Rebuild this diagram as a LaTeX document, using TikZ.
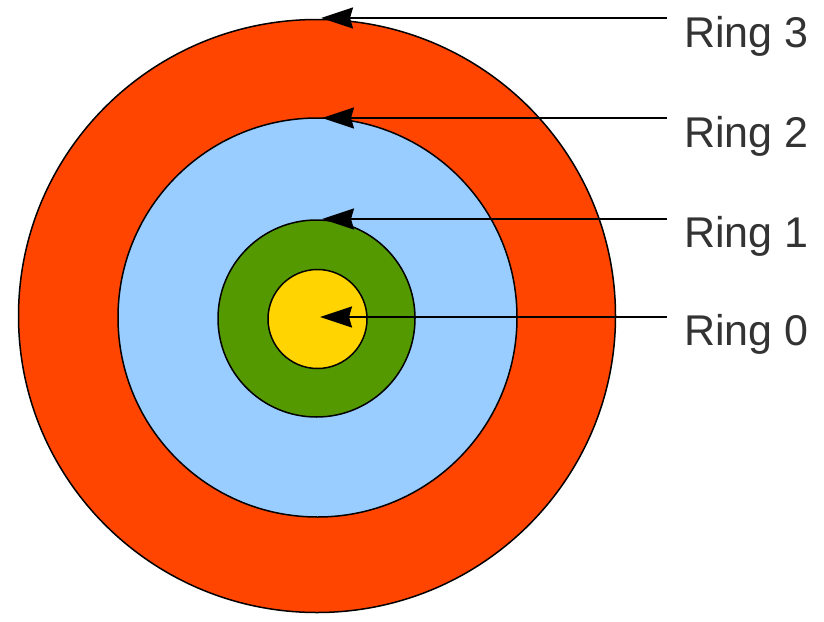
\documentclass[tikz,border=0pt]{standalone}
\usepackage{fontspec}
\setmainfont{Liberation Sans}
\usetikzlibrary{arrows.meta}
\definecolor{ringred}{HTML}{FF4500}
\definecolor{ringblue}{HTML}{99CCFF}
\definecolor{ringgreen}{HTML}{559900}
\definecolor{ringyellow}{HTML}{FFD400}
\definecolor{txt}{HTML}{333333}
\begin{document}
\begin{tikzpicture}[x=1pt,y=-1pt,
  ring/.style={draw=black, line width=1.5pt},
  pointer/.style={draw=black, line width=1.8pt, -{Stealth[length=32pt,width=21pt,inset=3pt,fill=black]}},
  lbl/.style={anchor=base west, inner sep=0pt, text=txt, font=\fontsize{43}{50}\selectfont}]
\useasboundingbox (0,0) rectangle (824,621);
\fill[white] (0,0) rectangle (824,621);
\draw[ring, fill=ringred] (317,316) ellipse [x radius=298.5, y radius=296.5];
\draw[ring, fill=ringblue] (317.5,317.5) circle [radius=199.5];
\draw[ring, fill=ringgreen] (316.5,318.5) circle [radius=98.5];
\draw[ring, fill=ringyellow] (317.5,319) circle [radius=49.5];
\coordinate (s3) at (667,18);  \coordinate (t3) at (321,18);
\coordinate (s2) at (667,118); \coordinate (t2) at (322,118);
\coordinate (s1) at (667,219); \coordinate (t1) at (322,219);
\coordinate (s0) at (667,317); \coordinate (t0) at (320,317);
\draw[pointer] (s3) -- (t3);
\draw[pointer] (s2) -- (t2);
\draw[pointer] (s1) -- (t1);
\draw[pointer] (s0) -- (t0);
\node[lbl] (l3) at (684,47) {Ring 3};
\node[lbl] (l2) at (684,147) {Ring 2};
\node[lbl] (l1) at (684,247) {Ring 1};
\node[lbl] (l0) at (684,345) {Ring 0};
\end{tikzpicture}
\end{document}
